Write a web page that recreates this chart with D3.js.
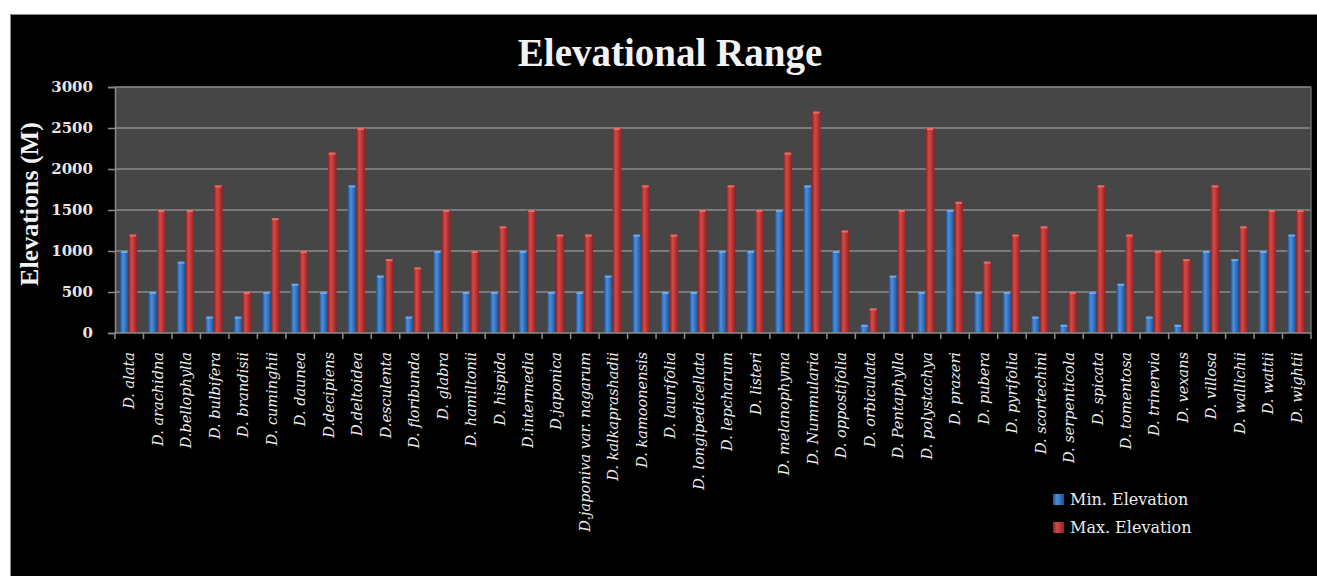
<!DOCTYPE html>
<html>
<head>
<meta charset="utf-8">
<script src="https://cdn.jsdelivr.net/npm/d3@7/dist/d3.min.js"></script>
<style>
  html, body { margin: 0; padding: 0; background: #ffffff; overflow: hidden; }
  svg { display: block; }
</style>
</head>
<body>
<svg id="chart" width="1317" height="576"></svg>
<script>
// Species names along the x axis
const species = [
  "D. alata", "D. arachidna", "D.bellophylla", "D. bulbifera", "D. brandisii",
  "D. cuminghii", "D. daunea", "D.decipiens", "D.deltoidea", "D.esculenta",
  "D. floribunda", "D. glabra", "D. hamiltonii", "D. hispida", "D.intermedia",
  "D.japonica", "D.japoniva var. nagarum", "D. kalkaprashadii", "D. kamoonensis",
  "D. laurifolia", "D. longipedicellata", "D. lepcharum", "D. listeri",
  "D. melanophyma", "D. Nummularia", "D. oppostifolia", "D. orbiculata",
  "D. Pentaphylla", "D. polystachya", "D. prazeri", "D. pubera", "D. pyrifolia",
  "D. scortechini", "D. serpenticola", "D. spicata", "D. tomentosa",
  "D. trinervia", "D. vexans", "D. villosa", "D. wallichii", "D. wattii",
  "D. wightii"
];

// Minimum elevation (m) per species
const minElevation = [
  1000, 500, 870, 200, 200, 500, 600, 500, 1800, 700,
  200, 1000, 500, 500, 1000, 500, 500, 700, 1200, 500,
  500, 1000, 1000, 1500, 1800, 1000, 100, 700, 500, 1500,
  500, 500, 200, 100, 500, 600, 200, 100, 1000, 900,
  1000, 1200
];

// Maximum elevation (m) per species
const maxElevation = [
  1200, 1500, 1500, 1800, 500, 1400, 1000, 2200, 2500, 900,
  800, 1500, 1000, 1300, 1500, 1200, 1200, 2500, 1800, 1200,
  1500, 1800, 1500, 2200, 2700, 1250, 300, 1500, 2500, 1600,
  870, 1200, 1300, 500, 1800, 1200, 1000, 900, 1800, 1300,
  1500, 1500
];

const seriesNames = ["Min. Elevation", "Max. Elevation"];
const yTicks = [0, 500, 1000, 1500, 2000, 2500, 3000];

const svg = d3.select("#chart");
const W = 1317, H = 576;

// Plot frame
const plot = { left: 115, right: 1311, top: 87, bottom: 333 };

const defs = svg.append("defs");
function barGradient(id, dark, mid, light) {
  const g = defs.append("linearGradient").attr("id", id)
    .attr("x1", "0%").attr("x2", "100%").attr("y1", "0%").attr("y2", "0%");
  g.append("stop").attr("offset", "0%").attr("stop-color", dark);
  g.append("stop").attr("offset", "35%").attr("stop-color", light);
  g.append("stop").attr("offset", "60%").attr("stop-color", mid);
  g.append("stop").attr("offset", "100%").attr("stop-color", dark);
}
barGradient("gMin", "#1d4f8e", "#3b78c6", "#4d8fdc");
barGradient("gMax", "#8c2222", "#c0393a", "#d34a47");

// Black chart background with thin gray edge
svg.append("rect").attr("x", 10).attr("y", 14).attr("width", W).attr("height", H)
  .attr("fill", "#000");
svg.append("path").attr("d", `M10.5,${H} V14.5 H${W}`)
  .attr("fill", "none").attr("stroke", "#8a8a8a").attr("stroke-width", 1);

// Scales
const x0 = d3.scaleBand().domain(species).range([plot.left, plot.right]).padding(0);
const x1 = d3.scaleBand().domain(seriesNames)
  .range([x0.bandwidth() * 0.17, x0.bandwidth() * 0.78]).padding(0);
const y = d3.scaleLinear().domain([0, 3000]).range([plot.bottom, plot.top]);

// Plot area fill
svg.append("rect")
  .attr("x", plot.left).attr("y", plot.top)
  .attr("width", plot.right - plot.left).attr("height", plot.bottom - plot.top)
  .attr("fill", "#464646");

// Gridlines
svg.append("g").selectAll("line").data(yTicks.filter(d => d > 0)).join("line")
  .attr("x1", plot.left).attr("x2", plot.right)
  .attr("y1", d => y(d)).attr("y2", d => y(d))
  .attr("stroke", "#8c8c8c").attr("stroke-width", 1.6);

// Right edge of plot
svg.append("line").attr("x1", plot.right).attr("x2", plot.right)
  .attr("y1", plot.top).attr("y2", plot.bottom)
  .attr("stroke", "#6a6a6a").attr("stroke-width", 1.5);

// Bars
const rows = species.map((s, i) => ({ s, vals: [minElevation[i], maxElevation[i]] }));
const groups = svg.append("g").selectAll("g").data(rows).join("g")
  .attr("transform", d => `translate(${x0(d.s)},0)`);

groups.selectAll("rect.bar").data(d => d.vals.map((v, k) => ({ k, v }))).join("rect")
  .attr("class", "bar")
  .attr("x", d => x1(seriesNames[d.k]))
  .attr("width", x1.bandwidth())
  .attr("y", d => y(d.v))
  .attr("height", d => y(0) - y(d.v))
  .attr("fill", d => d.k === 0 ? "url(#gMin)" : "url(#gMax)");

// Lit top face of each bar
groups.selectAll("rect.cap").data(d => d.vals.map((v, k) => ({ k, v }))).join("rect")
  .attr("class", "cap")
  .attr("x", d => x1(seriesNames[d.k]) + 1)
  .attr("width", x1.bandwidth() - 2)
  .attr("y", d => y(d.v))
  .attr("height", 2)
  .attr("fill", d => d.k === 0 ? "#7fb2ee" : "#ec7a74")
  .attr("opacity", 0.8);

// Y axis
const yAxis = d3.axisLeft(y).tickValues(yTicks).tickFormat(d3.format("d"))
  .tickSize(7).tickPadding(15);
const gy = svg.append("g").attr("transform", `translate(${plot.left},0)`).call(yAxis);
gy.select(".domain").attr("stroke", "#8c8c8c").attr("stroke-width", 1.5);
gy.selectAll(".tick line").attr("stroke", "#8c8c8c").attr("stroke-width", 1.5);
gy.selectAll(".tick text")
  .attr("fill", "#e6e6e6")
  .style("font-family", "'DejaVu Serif', serif")
  .style("font-weight", "bold")
  .style("font-size", "15px");

// X axis: tick marks at band boundaries
const gx = svg.append("g");
gx.append("line").attr("x1", plot.left).attr("x2", plot.right)
  .attr("y1", plot.bottom).attr("y2", plot.bottom)
  .attr("stroke", "#8c8c8c").attr("stroke-width", 1.5);
gx.selectAll("line.tk").data(species.concat(["__end"])).join("line")
  .attr("class", "tk")
  .attr("x1", d => d === "__end" ? plot.right : x0(d))
  .attr("x2", d => d === "__end" ? plot.right : x0(d))
  .attr("y1", plot.bottom).attr("y2", plot.bottom + 6)
  .attr("stroke", "#8c8c8c").attr("stroke-width", 1.5);

// Rotated species labels
gx.selectAll("text").data(species).join("text")
  .attr("transform", d => `translate(${x0(d) + x0.bandwidth() / 2},${plot.bottom + 19}) rotate(-90)`)
  .attr("text-anchor", "end")
  .attr("dy", "0.35em")
  .attr("fill", "#ececec")
  .style("font-family", "'DejaVu Serif', serif")
  .style("font-style", "italic")
  .style("font-size", "14.5px")
  .text(d => d);

// Title
svg.append("text")
  .attr("x", 670).attr("y", 66)
  .attr("text-anchor", "middle")
  .attr("fill", "#f2f2f2")
  .style("font-family", "'Liberation Serif', 'Times New Roman', serif")
  .style("font-weight", "bold")
  .style("font-size", "39px")
  .text("Elevational Range");

// Y axis title
svg.append("text")
  .attr("transform", "translate(38,204) rotate(-90)")
  .attr("text-anchor", "middle")
  .attr("fill", "#f2f2f2")
  .style("font-family", "'Liberation Serif', 'Times New Roman', serif")
  .style("font-weight", "bold")
  .style("font-size", "26px")
  .text("Elevations (M)");

// Legend
const legend = svg.append("g").attr("transform", "translate(1053,494)");
const legendFill = ["url(#gMin)", "url(#gMax)"];
seriesNames.forEach((name, i) => {
  const row = legend.append("g").attr("transform", `translate(0,${i * 28})`);
  row.append("rect").attr("width", 11).attr("height", 11).attr("fill", legendFill[i]);
  row.append("text").attr("x", 17).attr("y", 11)
    .attr("fill", "#ececec")
    .style("font-family", "'DejaVu Serif', serif")
    .style("font-size", "16px")
    .text(name);
});
</script>
</body>
</html>
